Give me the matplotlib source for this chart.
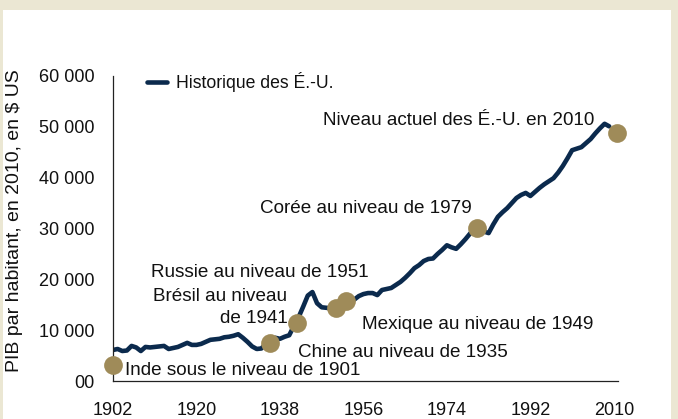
"""PIB par habitant des É.-U. (1902-2010) avec les niveaux actuels d'autres pays."""

import matplotlib

matplotlib.use("Agg")
import matplotlib.pyplot as plt
from matplotlib.patches import Rectangle

years = list(range(1902, 2010))
us_gdp = [
    6100, 6300, 5900, 6000, 6900, 6600, 5900, 6700, 6600, 6700,   # 1902-1911
    6800, 6900, 6300, 6500, 6700, 7100, 7500, 7100, 7100, 7300,   # 1912-1921
    7700, 8100, 8200, 8300, 8600, 8700, 8900, 9200, 8500, 7700,   # 1922-1931
    6800, 6300, 6400, 7400, 7900, 8500, 8300, 8700, 9000, 10800,  # 1932-1941
    12500, 14600, 16800, 17500, 15300, 14500, 14400, 14300, 14500, 15100,  # 1942-1951
    15700, 16100, 16000, 16700, 17100, 17300, 17300, 16900, 17900, 18100,  # 1952-1961
    18300, 18900, 19500, 20300, 21200, 22200, 22800, 23600, 24000, 24100,  # 1962-1971
    25000, 25800, 26700, 26300, 26000, 26900, 27900, 29000, 30100, 30000,  # 1972-1981
    29400, 29100, 30800, 32300, 33200, 34000, 35000, 36000, 36600, 37000,  # 1982-1991
    36400, 37200, 38000, 38700, 39300, 39900, 41000, 42300, 43800, 45400,  # 1992-2001
    45700, 46000, 46800, 47600, 48700, 49700, 50600, 50100,               # 2002-2009
]

# points : (année sur la courbe, valeur)
dot_years = [1902, 1935.8, 1941.7, 1950.0, 1952.2, 1980.5, 2010.6]
dot_values = [3100, 7400, 11400, 14400, 15700, 30100, 48800]

# annotations : texte, x (année), y (valeur), alignement horizontal
notes = [
    ("Niveau actuel des É.-U. en 2010", 2005.8, 51300, "right"),
    ("Corée au niveau de 1979", 1979.3, 33900, "right"),
    ("Russie au niveau de 1951", 1910.3, 21400, "left"),
    ("Brésil au niveau\nde 1941", 1939.6, 14500, "right"),
    ("Mexique au niveau de 1949", 1955.6, 11200, "left"),
    ("Chine au niveau de 1935", 1942.0, 5700, "left"),
    ("Inde sous le niveau de 1901", 1904.5, 2000, "left"),
]

x_ticks = [1902, 1920, 1938, 1956, 1974, 1992, 2010]
y_ticks = [0, 10000, 20000, 30000, 40000, 50000, 60000]
y_tick_labels = ["00", "10 000", "20 000", "30 000", "40 000", "50 000", "60 000"]

LINE_COLOR = "#0b2a4d"
DOT_COLOR = "#9f8b59"
BEIGE = "#ebe7d3"
FS = 13
FS_NOTE = 13.6

plt.rcParams["font.family"] = ["Liberation Sans", "DejaVu Sans"]

fig = plt.figure(figsize=(6.78, 4.19), dpi=100, facecolor=BEIGE)
fig.patches.append(
    Rectangle((3 / 678, 0), 668 / 678, 409 / 419, transform=fig.transFigure,
              facecolor="white", edgecolor="none", zorder=-1)
)

ax = fig.add_axes([113 / 678, 38 / 419, 505 / 678, 305 / 419])
ax.set_facecolor("none")

ax.plot(years, us_gdp, color=LINE_COLOR, lw=3.3, solid_capstyle="round",
        solid_joinstyle="round", label="Historique des É.-U.", zorder=2)
ax.plot(dot_years, dot_values, "o", ms=13.5, color=DOT_COLOR, mec="none",
        zorder=3, clip_on=False)

for text, x, y, ha in notes:
    ax.text(x, y, text, ha=ha, va="center", fontsize=FS_NOTE, multialignment=ha,
            linespacing=1.35, color="#111111")

ax.set_xlim(1902, 2010.9)
ax.set_ylim(0, 60000)
ax.set_xticks(x_ticks)
ax.set_yticks(y_ticks)
ax.set_yticklabels(y_tick_labels)
ax.tick_params(axis="both", length=0, labelsize=FS, colors="#111111")
ax.tick_params(axis="x", pad=15)
ax.tick_params(axis="y", pad=13)

for side in ("top", "right"):
    ax.spines[side].set_visible(False)
for side in ("left", "bottom"):
    ax.spines[side].set_linewidth(0.9)
    ax.spines[side].set_color("#222222")

leg = ax.legend(loc="center left", bbox_to_anchor=(0.068, 0.98), frameon=False,
                fontsize=12.7, handlelength=1.1, handletextpad=0.55,
                borderpad=0, borderaxespad=0)
for t in leg.get_texts():
    t.set_color("#111111")

fig.text(15 / 678, 1 - 221 / 419, "PIB par habitant, en 2010, en $ US",
         rotation=90, ha="center", va="center", fontsize=14, color="#111111")

fig.savefig("out.png", dpi=100, facecolor=BEIGE)
